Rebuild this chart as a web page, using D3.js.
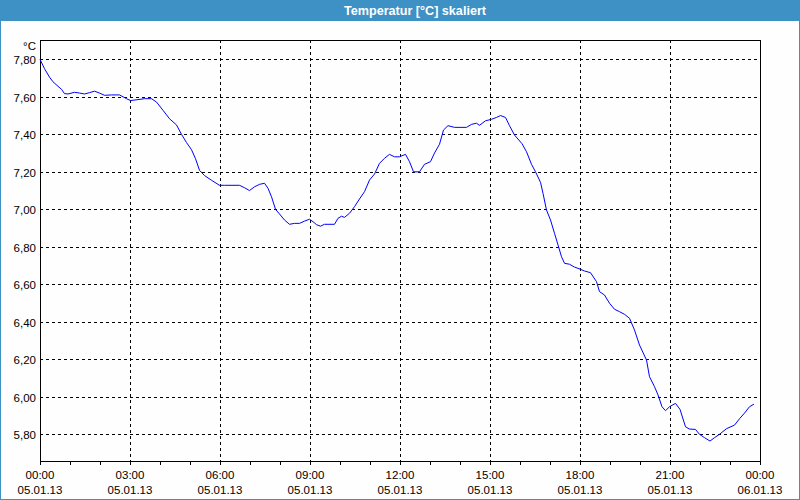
<!DOCTYPE html>
<html><head><meta charset="utf-8">
<script src="https://cdn.jsdelivr.net/npm/d3@7"></script>
<style>
html,body{margin:0;padding:0;background:#fff;}
svg{display:block;}
text{font-family:"Liberation Sans",Arial,sans-serif;}
</style></head>
<body>
<svg id="chart" width="800" height="500"></svg>
<script>
const title = "Temperatur [°C] skaliert";
const unitLabel = "°C";
// minutes after 05.01.13 00:00
const minutes = [0,9,19,26,36,43,49,56,69,79,89,99,109,119,129,143,159,173,181,196,209,223,233,246,259,273,283,293,303,311,319,329,343,359,
369,399,409,419,429,439,449,456,463,471,479,489,499,509,519,529,539,546,553,561,569,589,596,603,609,619,629,639,649,659,669,679,689,699,709,719,
731,739,747,759,769,781,789,799,807,816,829,853,863,873,879,891,903,913,921,931,939,949,964,973,983,991,1001,1006,1013,1021,1029,1036,1043,1049,1059,1069,1081,
1089,1101,1113,1119,1129,1139,1149,1159,1169,1179,1189,1199,1213,1219,1229,1236,1244,1251,1259,1271,1280,1291,1299,1311,1319,1329,1340,1349,1359,1373,1389,1399,1409,1419,1428];
const temps = [7.80,7.75,7.705,7.68,7.656,7.64,7.617,7.615,7.624,7.62,7.615,7.622,7.63,7.62,7.608,7.61,7.61,7.59,7.58,7.585,7.59,7.59,7.572,7.528,7.483,7.45,7.40,7.356,7.318,7.27,7.208,7.18,7.155,7.128,
7.128,7.128,7.115,7.10,7.12,7.133,7.139,7.112,7.067,7.00,6.975,6.943,6.92,6.925,6.925,6.937,6.947,6.934,6.918,6.91,6.92,6.92,6.952,6.963,6.957,6.979,7.014,7.055,7.094,7.156,7.188,7.245,7.272,7.293,7.28,7.28,
7.293,7.254,7.20,7.20,7.24,7.254,7.30,7.347,7.423,7.446,7.437,7.437,7.453,7.459,7.448,7.472,7.48,7.49,7.50,7.49,7.446,7.396,7.35,7.307,7.24,7.20,7.144,7.085,6.996,6.943,6.872,6.81,6.747,6.712,6.707,6.692,6.68,
6.671,6.662,6.614,6.561,6.543,6.499,6.467,6.454,6.44,6.419,6.356,6.276,6.196,6.107,6.054,6.01,5.947,5.926,5.947,5.965,5.933,5.84,5.828,5.826,5.80,5.782,5.764,5.782,5.80,5.83,5.849,5.883,5.913,5.947,5.961];
const yTicks = [5.8,6.0,6.2,6.4,6.6,6.8,7.0,7.2,7.4,7.6,7.8];
const xTickHours = [0,3,6,9,12,15,18,21,24];
const xTimeLabels = ["00:00","03:00","06:00","09:00","12:00","15:00","18:00","21:00","00:00"];
const xDateLabels = ["05.01.13","05.01.13","05.01.13","05.01.13","05.01.13","05.01.13","05.01.13","05.01.13","06.01.13"];
const minorHours = d3.range(0,25);

const W=800,H=500;
const L=40,R=760,T=40,B=461;
const svg=d3.select("#chart");
svg.append("rect").attr("x",0).attr("y",0).attr("width",W).attr("height",H).attr("fill","#fdfefd");
// title bar
svg.append("rect").attr("x",0).attr("y",0).attr("width",W).attr("height",21).attr("fill","#3d91c4");
svg.append("rect").attr("x",0.5).attr("y",0.5).attr("width",W-1).attr("height",H-1).attr("fill","none").attr("stroke","#3d91c4");
svg.append("text").attr("x",415).attr("y",14.5).attr("text-anchor","middle").attr("fill","#fff")
  .attr("font-weight","bold").attr("font-size","12.6px").text(title);

const x=d3.scaleLinear().domain([0,24*60]).range([L,R]);
const y=d3.scaleLinear().domain([5.8,7.8]).range([434.3,59.3]);

const g=svg.append("g").attr("shape-rendering","crispEdges");
// horizontal grid
g.selectAll("line.hg").data(yTicks).join("line")
  .attr("x1",L).attr("x2",R).attr("y1",d=>Math.round(y(d))+0.5).attr("y2",d=>Math.round(y(d))+0.5)
  .attr("stroke","#000").attr("stroke-dasharray","3,3");
// vertical grid
g.selectAll("line.vg").data(xTickHours.slice(1,-1)).join("line")
  .attr("x1",d=>Math.round(x(d*60))+0.5).attr("x2",d=>Math.round(x(d*60))+0.5).attr("y1",T).attr("y2",B)
  .attr("stroke","#000").attr("stroke-dasharray","3,3");

// y labels
const tg=svg.append("g");
tg.selectAll("text.yl").data(yTicks).join("text")
  .attr("x",36).attr("y",d=>Math.round(y(d))+4.5).attr("text-anchor","end").attr("font-size","11.5px").attr("fill","#000")
  .text(d=>d3.format(".2f")(d).replace(".",","));
tg.append("text").attr("x",36).attr("y",50).attr("text-anchor","end").attr("font-size","11.5px").text(unitLabel);

// x ticks
g.selectAll("line.xt").data(minorHours).join("line")
  .attr("x1",d=>Math.round(x(d*60))+0.5).attr("x2",d=>Math.round(x(d*60))+0.5).attr("y1",B).attr("y2",B+4)
  .attr("stroke","#000");
tg.selectAll("text.xl1").data(xTickHours).join("text")
  .attr("x",(d)=>x(d*60)).attr("y",479).attr("text-anchor","middle").attr("font-size","11.5px").text((d,i)=>xTimeLabels[i]);
tg.selectAll("text.xl2").data(xTickHours).join("text")
  .attr("x",(d)=>x(d*60)).attr("y",494).attr("text-anchor","middle").attr("font-size","11.5px").text((d,i)=>xDateLabels[i]);

// frame
svg.append("rect").attr("x",L+0.5).attr("y",T+0.5).attr("width",R-L).attr("height",B-T).attr("fill","none").attr("stroke","#000").attr("shape-rendering","crispEdges");

// line
const data=minutes.map((m,i)=>({m,v:temps[i]}));
svg.append("path").datum(data).attr("fill","none").attr("stroke","#0000ff").attr("stroke-width",1)
  .attr("d",d3.line().x(d=>x(d.m)).y(d=>y(d.v)));
</script>
</body></html>
